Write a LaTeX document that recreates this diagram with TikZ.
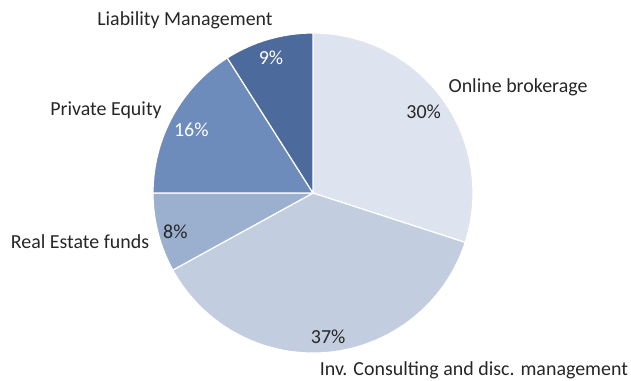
\documentclass[tikz,border=0pt]{standalone}
\usepackage{fontspec}
\setmainfont{Carlito}
\definecolor{liabcol}{HTML}{4C6A9C}
\definecolor{equitycol}{HTML}{6E8CBB}
\definecolor{estatecol}{HTML}{9BAFCF}
\definecolor{consultcol}{HTML}{C3CDE0}
\definecolor{onlinecol}{HTML}{DDE3EF}
\definecolor{txtcol}{HTML}{262626}
\begin{document}
\begin{tikzpicture}[x=1bp,y=1bp,
    slice/.style={draw=white,line width=1.2bp},
    pct/.style={font=\fontsize{20}{23}\selectfont,text=txtcol,inner sep=0pt},
    cat/.style={font=\fontsize{20}{23}\selectfont,text=txtcol,inner sep=0pt}]
  \useasboundingbox (0,0) rectangle (631,380);
  \coordinate (c) at (313,187);
  \begin{scope}[shift={(c)}]
    \filldraw[slice,fill=onlinecol] (0,0) -- (90:160) arc[start angle=90,end angle=-18,radius=160] -- cycle;
    \filldraw[slice,fill=consultcol] (0,0) -- (-18:160) arc[start angle=-18,end angle=-151.2,radius=160] -- cycle;
    \filldraw[slice,fill=estatecol] (0,0) -- (-151.2:160) arc[start angle=-151.2,end angle=-180,radius=160] -- cycle;
    \filldraw[slice,fill=equitycol] (0,0) -- (180:160) arc[start angle=180,end angle=122.4,radius=160] -- cycle;
    \filldraw[slice,fill=liabcol] (0,0) -- (122.4:160) arc[start angle=122.4,end angle=90,radius=160] -- cycle;
    \draw
      (36.1:137) node[pct] (onlinepct) {30\%}
      (276:145) node[pct] (consultpct) {37\%}
      (195.8:143) node[pct] (estatepct) {8\%}
      (152.7:137) node[pct,text=white] (equitypct) {16\%}
      (107.2:142) node[pct,text=white] (liabpct) {9\%};
  \end{scope}
  \node[cat] (online) at (518,293) {Online brokerage};
  \node[cat] (consult) at (474,10) {Inv. Consulting and disc. management};
  \node[cat] (estate) at (80,138) {Real Estate funds};
  \node[cat] (equity) at (106,270) {Private Equity};
  \node[cat] (liab) at (185,360) {Liability Management};
\end{tikzpicture}
\end{document}
